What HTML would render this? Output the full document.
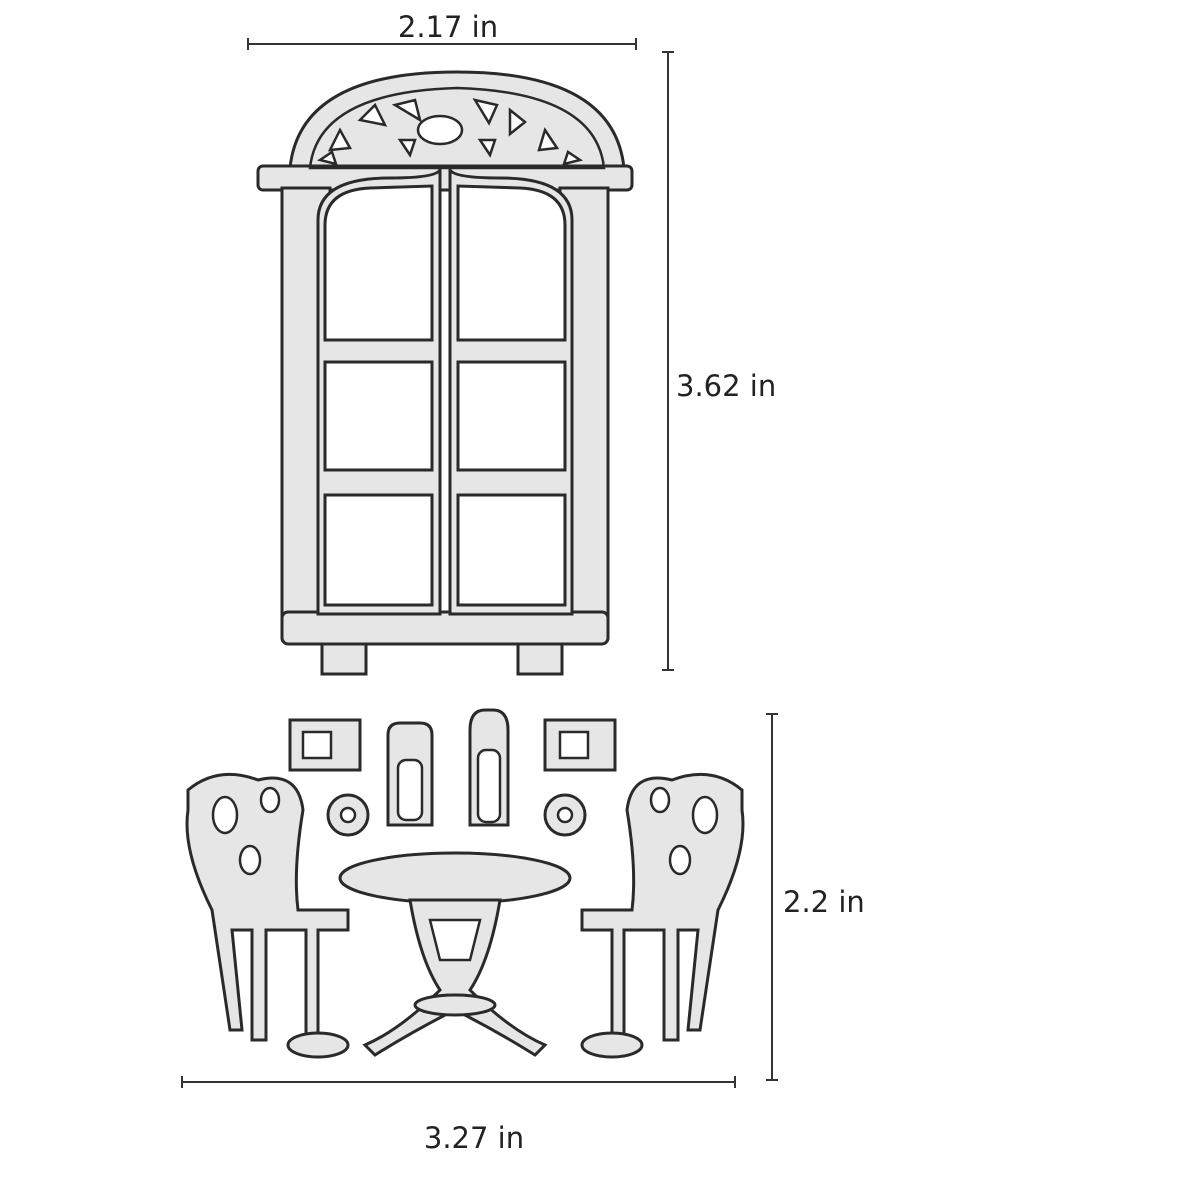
<!DOCTYPE html>
<html><head><meta charset="utf-8"><style>
html,body{margin:0;padding:0;background:#fff;}
svg{display:block}
text{font-family:"DejaVu Sans","Liberation Sans",sans-serif;fill:#222;}
</style></head><body>
<svg width="1200" height="1200" viewBox="0 0 1200 1200" xmlns="http://www.w3.org/2000/svg">
<g stroke="#333" stroke-width="2" fill="none">
<line x1="248" y1="44" x2="636" y2="44"/><line x1="248" y1="38" x2="248" y2="50"/><line x1="636" y1="38" x2="636" y2="50"/>
<line x1="668" y1="52" x2="668" y2="670"/><line x1="662" y1="52" x2="674" y2="52"/><line x1="662" y1="670" x2="674" y2="670"/>
<line x1="772" y1="714" x2="772" y2="1080"/><line x1="766" y1="714" x2="778" y2="714"/><line x1="766" y1="1080" x2="778" y2="1080"/>
<line x1="182" y1="1082" x2="735" y2="1082"/><line x1="182" y1="1076" x2="182" y2="1088"/><line x1="735" y1="1076" x2="735" y2="1088"/>
</g>
<text x="448" y="37" font-size="29" text-anchor="middle">2.17 in</text>
<text x="676" y="396" font-size="29">3.62 in</text>
<text x="783" y="912" font-size="29">2.2 in</text>
<text x="474" y="1148" font-size="29" text-anchor="middle">3.27 in</text>

<!-- window -->
<g stroke="#2a2a2a" stroke-width="3" fill="#e6e6e6">
<path d="M290 168 Q300 72 457 72 Q614 72 624 168 Z"/>
<rect x="258" y="166" width="374" height="24" rx="5"/>
<rect x="282" y="188" width="48" height="428"/>
<rect x="560" y="188" width="48" height="428"/>
<rect x="282" y="612" width="326" height="32" rx="6"/>
<path d="M322 644 h44 v30 h-44 z M518 644 h44 v30 h-44 z"/>
<path d="M318 614 V220 Q318 178 390 178 Q435 178 440 170 V614 Z"/>
<path d="M450 614 V170 Q455 178 500 178 Q572 178 572 220 V614 Z"/>
</g>
<g stroke="#2a2a2a" stroke-width="3" fill="#fff">
<path d="M325 340 V225 Q325 190 370 188 L432 186 V340 Z"/>
<path d="M458 340 V186 L520 188 Q565 190 565 225 V340 Z"/>
<rect x="325" y="362" width="107" height="108"/><rect x="458" y="362" width="107" height="108"/>
<rect x="325" y="495" width="107" height="110"/><rect x="458" y="495" width="107" height="110"/>
</g>
<g fill="#fff" stroke="#2a2a2a" stroke-width="2.5">
<path d="M310 168 Q318 92 457 88 Q596 92 604 168 Z" fill="none"/>
<ellipse cx="440" cy="130" rx="22" ry="14"/>
<path d="M330 150 l10 -20 l10 18z M360 120 l15 -15 l10 20z M395 105 l20 -5 l5 20z M475 100 l22 5 l-8 18z M510 110 l15 12 l-15 12z M545 130 l12 18 l-18 2z M320 160 l12 -8 l4 12z M580 160 l-12 -8 l-4 12z M400 140 l15 0 l-5 15z M480 140 l15 0 l-5 15z"/>
</g>

<!-- table scene -->
<g stroke="#2a2a2a" stroke-width="3" fill="#e6e6e6">
<path d="M290 720 h70 v50 h-70 z"/><path d="M545 720 h70 v50 h-70 z"/>
<path d="M388 735 q0 -12 12 -12 h20 q12 0 12 12 v90 h-44 z"/>
<path d="M470 730 q0 -20 15 -20 h8 q15 0 15 20 v95 h-38 z"/>
<circle cx="348" cy="815" r="20"/><circle cx="565" cy="815" r="20"/>
<path d="M188 790 q30 -25 70 -10 q40 -10 45 30 q-10 60 -5 100 h50 v20 h-30 v120 h-12 v-120 h-40 v110 h-14 v-110 h-20 l10 100 h-12 l-18 -120 q-30 -60 -24 -100 z"/>
<path d="M742 790 q-30 -25 -70 -10 q-40 -10 -45 30 q10 60 5 100 h-50 v20 h30 v120 h12 v-120 h40 v110 h14 v-110 h20 l-10 100 h12 l18 -120 q30 -60 24 -100 z"/>
<ellipse cx="455" cy="878" rx="115" ry="25"/>
<path d="M410 900 q10 60 30 90 q-40 40 -75 55 l10 10 q40 -25 80 -45 q40 20 80 45 l10 -10 q-35 -15 -75 -55 q20 -30 30 -90 z"/>
<ellipse cx="455" cy="1005" rx="40" ry="10"/>
<ellipse cx="318" cy="1045" rx="30" ry="12"/><ellipse cx="612" cy="1045" rx="30" ry="12"/>
</g>
<g stroke="#2a2a2a" stroke-width="2.5" fill="#fff">
<rect x="303" y="732" width="28" height="26"/><rect x="560" y="732" width="28" height="26"/>
<rect x="398" y="760" width="24" height="60" rx="8"/><rect x="478" y="750" width="22" height="72" rx="8"/>
<circle cx="348" cy="815" r="7"/><circle cx="565" cy="815" r="7"/>
<ellipse cx="225" cy="815" rx="12" ry="18"/><ellipse cx="250" cy="860" rx="10" ry="14"/><ellipse cx="270" cy="800" rx="9" ry="12"/>
<ellipse cx="705" cy="815" rx="12" ry="18"/><ellipse cx="680" cy="860" rx="10" ry="14"/><ellipse cx="660" cy="800" rx="9" ry="12"/>
<path d="M430 920 h50 l-10 40 h-30 z"/>
</g>
</svg>
</body></html>
